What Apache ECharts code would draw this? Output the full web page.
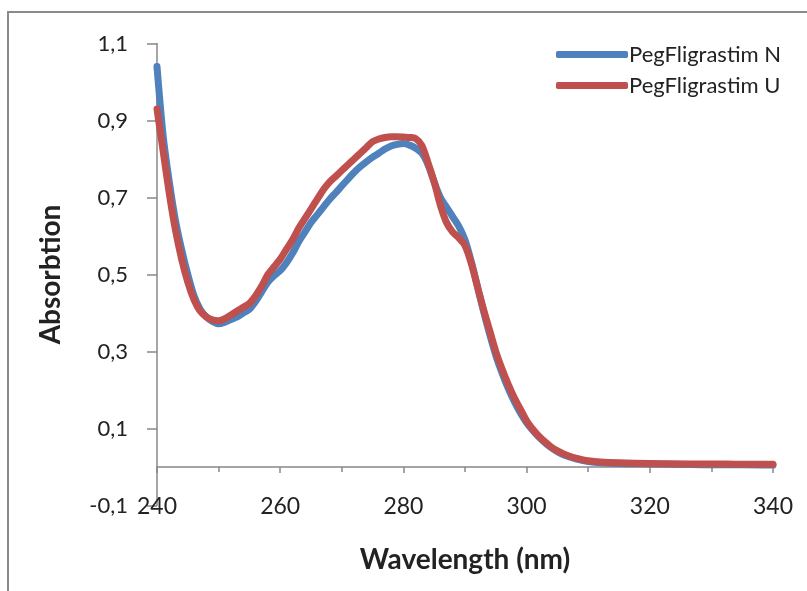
<!DOCTYPE html>
<html>
<head>
<meta charset="utf-8">
<script src="https://cdn.jsdelivr.net/npm/echarts@6/dist/echarts.min.js"></script>
<style>html,body{margin:0;padding:0;background:#fff}#c{width:807px;height:591px}</style>
</head>
<body>
<div id="c"></div>
<script>
const wavelengths = [240,241,242,243,244,245,246,247,248,249,250,251,252,253,254,255,256,257,258,259,260,261,262,263,264,265,266,267,268,269,270,271,272,273,274,275,276,277,278,279,280,281,282,283,284,285,286,287,288,289,290,291,292,293,294,295,296,297,298,299,300,301,302,303,304,305,306,307,308,309,310,312,315,320,325,330,335,340];
const pegN = [1.04,0.86,0.74,0.64,0.565,0.50,0.445,0.41,0.39,0.378,0.372,0.376,0.383,0.39,0.40,0.41,0.43,0.455,0.48,0.497,0.51,0.53,0.555,0.585,0.61,0.635,0.655,0.675,0.695,0.712,0.73,0.748,0.765,0.78,0.793,0.805,0.815,0.826,0.834,0.838,0.84,0.836,0.828,0.815,0.785,0.74,0.70,0.675,0.65,0.625,0.59,0.535,0.47,0.405,0.345,0.29,0.245,0.205,0.17,0.14,0.115,0.095,0.078,0.063,0.05,0.04,0.032,0.026,0.021,0.017,0.014,0.011,0.009,0.008,0.007,0.006,0.006,0.005];
const pegU = [0.93,0.82,0.71,0.615,0.54,0.48,0.435,0.405,0.39,0.382,0.38,0.385,0.395,0.405,0.415,0.425,0.445,0.47,0.50,0.52,0.54,0.565,0.59,0.62,0.645,0.67,0.695,0.72,0.74,0.755,0.77,0.785,0.80,0.815,0.83,0.845,0.852,0.856,0.858,0.858,0.857,0.856,0.853,0.835,0.79,0.74,0.68,0.635,0.61,0.595,0.575,0.53,0.47,0.41,0.355,0.30,0.255,0.215,0.18,0.15,0.12,0.098,0.08,0.065,0.052,0.042,0.034,0.028,0.023,0.019,0.016,0.013,0.011,0.009,0.008,0.008,0.007,0.007];
const seriesNames = ['PegFligrastim N','PegFligrastim U'];
const xTitle = 'Wavelength (nm)';
const yTitle = 'Absorbtion';

const font = 'Lato, "Open Sans", sans-serif';
const chart = echarts.init(document.getElementById('c'), null, {renderer:'canvas'});
const pair = (xs, ys) => xs.map((x,i)=>[x, ys[i]]);
chart.setOption({
  animation:false,
  backgroundColor:'#fff',
  graphic:[{type:'rect', shape:{x:8,y:12,width:900,height:700}, style:{fill:'none', stroke:'#8a8a8a', lineWidth:2}, z:-1}],
  grid:{left:157, right:34, top:43.5, bottom:85.5, containLabel:false, outerBoundsMode:'none'},
  legend:{
    orient:'vertical', left:551, top:38, itemWidth:72, itemHeight:7, itemGap:8,
    icon:'roundRect',
    textStyle:{fontFamily:font, fontSize:22, lineHeight:23, color:'#222', padding:[0,0,0,-4]},
    data:seriesNames
  },
  xAxis:{
    type:'value', min:240, max:340, interval:20,
    axisLine:{onZero:true, lineStyle:{color:'#888', width:1.5}},
    axisTick:{show:true, length:6, lineStyle:{color:'#888', width:1.5}},
    minorTick:{show:true, splitNumber:2, length:5, lineStyle:{color:'#888', width:1.5}},
    splitLine:{show:false},
    axisLabel:{margin:-10, fontFamily:font, fontSize:23, color:'#222'},
    name:xTitle, nameLocation:'middle', nameGap:40,
    nameTextStyle:{fontFamily:font, fontSize:28, fontWeight:'bold', color:'#222'}
  },
  yAxis:{
    type:'value', min:-0.1, max:1.1, interval:0.2,
    axisLine:{show:true, lineStyle:{color:'#888', width:1.5}},
    axisTick:{show:true, length:10, lineStyle:{color:'#888', width:1.5}},
    splitLine:{show:false},
    axisLabel:{margin:29, fontFamily:font, fontSize:22, color:'#222',
      formatter:v=>v.toFixed(1).replace('.',',')},
    name:yTitle, nameLocation:'middle', nameGap:92, nameRotate:90,
    nameTextStyle:{fontFamily:font, fontSize:28, fontWeight:'bold', color:'#222'}
  },
  series:[
    {name:seriesNames[0], type:'line', data:pair(wavelengths,pegN), showSymbol:false, symbol:'none', smooth:0.3,
      lineStyle:{color:'#4F81BD', width:7, cap:'round', join:'round'}, itemStyle:{color:'#4F81BD'}},
    {name:seriesNames[1], type:'line', data:pair(wavelengths,pegU), showSymbol:false, symbol:'none', smooth:0.3,
      lineStyle:{color:'#C0504D', width:7, cap:'round', join:'round'}, itemStyle:{color:'#C0504D'}}
  ]
});
</script>
</body>
</html>
